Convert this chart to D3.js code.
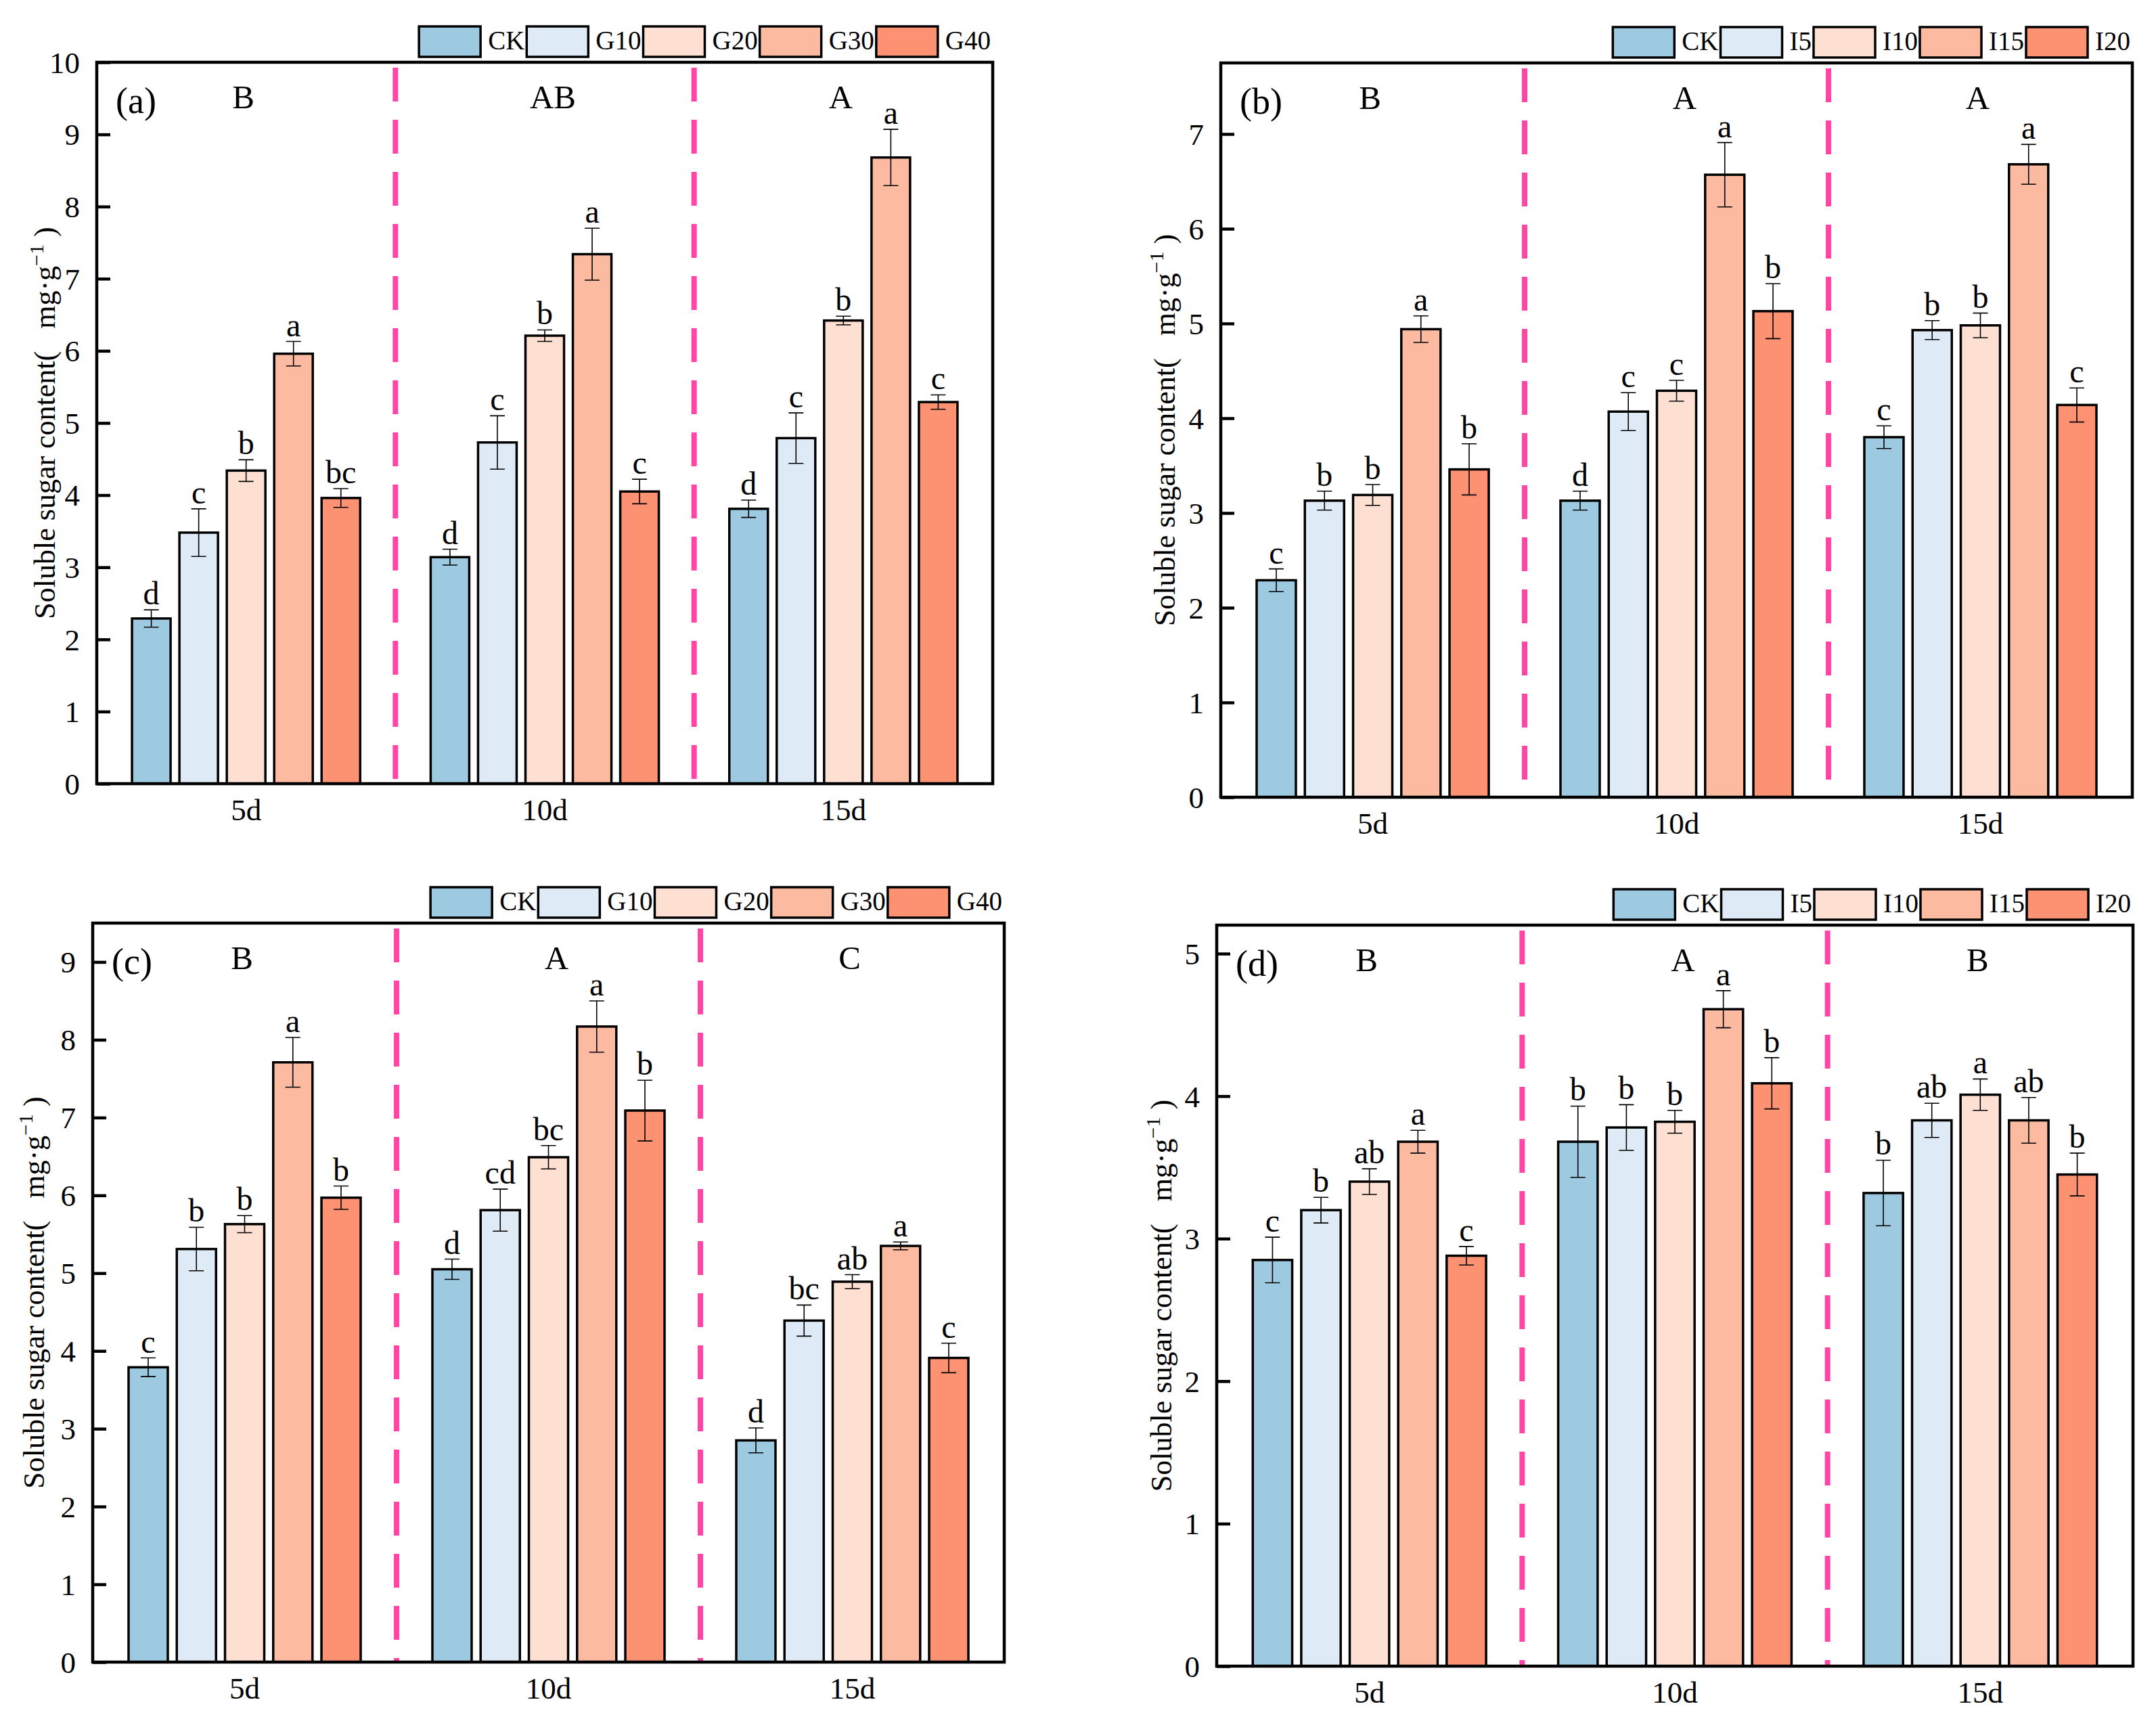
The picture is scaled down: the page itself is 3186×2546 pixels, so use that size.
<!DOCTYPE html>
<html lang="en">
<head>
<meta charset="UTF-8">
<title>Soluble sugar content</title>
<style>
  body { margin: 0; background: #fff; }
  text { font-family: "Liberation Serif", "Times New Roman", serif; fill: #000; }
</style>
</head>
<body>
<script src="https://d3js.org/d3.v7.min.js"></script>
<script>
// ---- data ----
var days = ["5d", "10d", "15d"];
var seriesG = ["CK", "G10", "G20", "G30", "G40"];
var seriesI = ["CK", "I5", "I10", "I15", "I20"];
var colors = ["#9ecae1", "#deebf7", "#fee0d2", "#fcbba1", "#fc9272"];

// (a)
var meanA = [[2.29, 3.48, 4.34, 5.96, 3.96], [3.14, 4.73, 6.21, 7.34, 4.05], [3.81, 4.79, 6.42, 8.68, 5.29]];
var errA = [[0.12, 0.33, 0.15, 0.17, 0.13], [0.11, 0.37, 0.08, 0.36, 0.17], [0.12, 0.35, 0.06, 0.39, 0.10]];
var sigA = [["d", "c", "b", "a", "bc"], ["d", "c", "b", "a", "c"], ["d", "c", "b", "a", "c"]];
var groupA = ["B", "AB", "A"];
// (b)
var meanB = [[2.29, 3.13, 3.19, 4.94, 3.46], [3.13, 4.07, 4.29, 6.57, 5.13], [3.80, 4.93, 4.98, 6.68, 4.14]];
var errB = [[0.12, 0.10, 0.11, 0.14, 0.27], [0.10, 0.20, 0.11, 0.34, 0.29], [0.12, 0.10, 0.13, 0.21, 0.18]];
var sigB = [["c", "b", "b", "a", "b"], ["d", "c", "c", "a", "b"], ["c", "b", "b", "a", "c"]];
var groupB = ["B", "A", "A"];
// (c)
var meanC = [[3.79, 5.31, 5.63, 7.71, 5.97], [5.05, 5.81, 6.49, 8.17, 7.09], [2.85, 4.39, 4.89, 5.35, 3.91]];
var errC = [[0.12, 0.28, 0.11, 0.32, 0.15], [0.13, 0.27, 0.15, 0.33, 0.39], [0.16, 0.20, 0.09, 0.05, 0.19]];
var sigC = [["c", "b", "b", "a", "b"], ["d", "cd", "bc", "a", "b"], ["d", "bc", "ab", "a", "c"]];
var groupC = ["B", "A", "C"];
// (d)
var meanD = [[2.85, 3.20, 3.40, 3.68, 2.88], [3.68, 3.78, 3.82, 4.61, 4.09], [3.32, 3.83, 4.01, 3.83, 3.45]];
var errD = [[0.16, 0.09, 0.09, 0.08, 0.065], [0.25, 0.16, 0.08, 0.13, 0.18], [0.23, 0.12, 0.11, 0.16, 0.15]];
var sigD = [["c", "b", "ab", "a", "c"], ["b", "b", "b", "a", "b"], ["b", "ab", "a", "ab", "b"]];
var groupD = ["B", "A", "B"];

// panel layout
var panels = [
  { tag: "(a)", series: seriesG, mean: meanA, err: errA, sig: sigA, group: groupA, ymax: 10, ticks: d3.range(0, 11),
    left: 143, right: 1467, top: 92, bottom: 1158, labOff: 62 },
  { tag: "(b)", series: seriesI, mean: meanB, err: errB, sig: sigB, group: groupB, ymax: 7.75, ticks: d3.range(0, 8),
    left: 1804, right: 3151, top: 93, bottom: 1178, labOff: 68 },
  { tag: "(c)", series: seriesG, mean: meanC, err: errC, sig: sigC, group: groupC, ymax: 9.5, ticks: d3.range(0, 10),
    left: 137, right: 1484, top: 1364, bottom: 2456, labOff: 72 },
  { tag: "(d)", series: seriesI, mean: meanD, err: errD, sig: sigD, group: groupD, ymax: 5.2, ticks: d3.range(0, 6),
    left: 1798, right: 3152, top: 1367, bottom: 2462, labOff: 67 }
];

var svg = d3.select("body").append("svg")
  .attr("width", 3186)
  .attr("height", 2546);

panels.forEach(function (p) {
  var g = svg.append("g");

  var x0 = d3.scaleBand().domain(days).range([p.left, p.right]).padding(0);
  var bw = x0.bandwidth();
  var x1 = d3.scaleBand().domain(p.series)
    .range([bw * 0.118, bw * 0.882]).paddingInner(0.186).paddingOuter(0);
  var y = d3.scaleLinear().domain([0, p.ymax]).range([p.bottom, p.top]);

  // dashed separators
  g.selectAll(".sep").data(days.slice(1)).enter().append("line")
    .attr("x1", function (d) { return x0(d); })
    .attr("x2", function (d) { return x0(d); })
    .attr("y1", p.top + 8)
    .attr("y2", p.bottom)
    .attr("stroke", "#ff45a6")
    .attr("stroke-width", 8)
    .attr("stroke-dasharray", "50,27");

  // bars
  var rows = [];
  days.forEach(function (day, i) {
    p.series.forEach(function (s, j) {
      rows.push({ day: day, s: s, j: j, v: p.mean[i][j], e: p.err[i][j], sig: p.sig[i][j] });
    });
  });

  var grp = g.selectAll(".bar").data(rows).enter().append("g")
    .attr("transform", function (d) { return "translate(" + (x0(d.day) + x1(d.s)) + ",0)"; });

  grp.append("rect")
    .attr("x", 0)
    .attr("width", x1.bandwidth())
    .attr("y", function (d) { return y(d.v); })
    .attr("height", function (d) { return y(0) - y(d.v); })
    .attr("fill", function (d) { return colors[d.j]; })
    .attr("stroke", "#000")
    .attr("stroke-width", 3.5);

  var cx = x1.bandwidth() / 2;
  var cap = 11;
  grp.append("path")
    .attr("d", function (d) {
      var t = y(d.v + d.e), b = y(d.v - d.e);
      return "M" + cx + "," + t + "V" + b +
        "M" + (cx - cap) + "," + t + "H" + (cx + cap) +
        "M" + (cx - cap) + "," + b + "H" + (cx + cap);
    })
    .attr("stroke", "#000")
    .attr("stroke-width", 1.6)
    .attr("fill", "none");

  grp.append("text")
    .attr("x", cx)
    .attr("y", function (d) { return y(d.v + d.e) - 8; })
    .attr("text-anchor", "middle")
    .attr("font-size", 48)
    .text(function (d) { return d.sig; });

  // group letters (middle one sits a little right of centre)
  g.selectAll(".grpLetter").data(days).enter().append("text")
    .attr("x", function (d, i) { return x0(d) + bw / 2 + (i === 1 ? 12 : -4); })
    .attr("y", p.top + 68)
    .attr("text-anchor", "middle")
    .attr("font-size", 49)
    .text(function (d, i) { return p.group[i]; });

  g.append("text")
    .attr("x", p.left + 28)
    .attr("y", p.top + 75)
    .attr("font-size", 54)
    .text(p.tag);

  // y axis
  var yAxis = d3.axisLeft(y).tickValues(p.ticks).tickSize(-20).tickPadding(25).tickFormat(d3.format("d"));
  var ya = g.append("g").attr("transform", "translate(" + p.left + ",0)").call(yAxis);
  ya.select(".domain").remove();
  ya.selectAll(".tick line").attr("stroke", "#000").attr("stroke-width", 4.5);
  ya.selectAll(".tick text")
    .attr("font-size", 45)
    .attr("font-family", "Liberation Serif")
    .attr("fill", "#000")
    .attr("dy", "0.34em");

  // x axis labels
  var xAxis = d3.axisBottom(x0).tickSize(0).tickPadding(20);
  var xa = g.append("g").attr("transform", "translate(0," + p.bottom + ")").call(xAxis);
  xa.select(".domain").remove();
  xa.selectAll(".tick text")
    .attr("font-size", 45)
    .attr("font-family", "Liberation Serif")
    .attr("fill", "#000")
    .attr("dy", "0.75em");

  // frame
  g.append("rect")
    .attr("x", p.left).attr("y", p.top)
    .attr("width", p.right - p.left).attr("height", p.bottom - p.top)
    .attr("fill", "none").attr("stroke", "#000").attr("stroke-width", 4.5);

  // y label
  var yl = g.append("text")
    .attr("transform", "translate(" + (p.left - p.labOff) + "," + ((p.top + p.bottom) / 2) + ") rotate(-90)")
    .attr("text-anchor", "middle")
    .attr("font-size", 44);
  yl.append("tspan").text("Soluble sugar content(\u00a0\u00a0\u00a0mg·g");
  yl.append("tspan").attr("dy", -17).attr("font-size", 30).text("−1");
  yl.append("tspan").attr("dy", 17).text("\u00a0)");

  // legend, right aligned to frame
  var lg = g.append("g");
  var boxW = 91, boxH = 45, ly = p.top - 8 - boxH;
  var items = lg.selectAll(".leg").data(p.series).enter().append("g");
  items.append("rect")
    .attr("width", boxW).attr("height", boxH)
    .attr("fill", function (d, i) { return colors[i]; })
    .attr("stroke", "#000").attr("stroke-width", 3.5);
  items.append("text")
    .attr("x", boxW + 11)
    .attr("y", boxH - 11)
    .attr("font-size", 39)
    .text(function (d) { return d; });
  var xs = [], cur = 0;
  items.each(function () {
    var tw = d3.select(this).select("text").node().getComputedTextLength();
    xs.push(cur);
    cur += boxW + 11 + tw + 3;
  });
  var start = p.right - 3 - (cur - 3);
  items.attr("transform", function (d, i) { return "translate(" + (start + xs[i]) + "," + ly + ")"; });
});
</script>
</body>
</html>
